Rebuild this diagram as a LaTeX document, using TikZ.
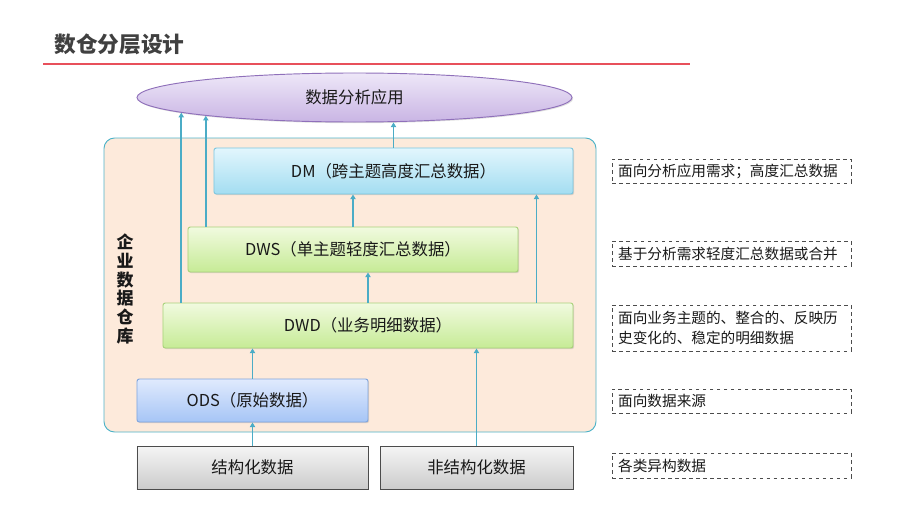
\documentclass[tikz,border=0pt]{standalone}
\usepackage{fontspec}
\setmainfont{Noto Sans CJK SC}
\usepackage{tikz}
\usetikzlibrary{arrows.meta,shapes.geometric,shadows}

\definecolor{flowc}{HTML}{4BACC6}
\definecolor{titlec}{HTML}{404040}
\definecolor{redline}{HTML}{E8505B}
\definecolor{dwfill}{HTML}{FDEADB}
\definecolor{dwline}{HTML}{4EB3C8}
\definecolor{apptop}{HTML}{EEE7F8}
\definecolor{appbot}{HTML}{C9B5E4}
\definecolor{appline}{HTML}{8F70BA}
\definecolor{dmtop}{HTML}{E2F6FD}
\definecolor{dmbot}{HTML}{A3DDF1}
\definecolor{dmline}{HTML}{7CC6DF}
\definecolor{grtop}{HTML}{F1FADF}
\definecolor{grbot}{HTML}{C6EB96}
\definecolor{grline}{HTML}{A8D27A}
\definecolor{odstop}{HTML}{E0EAFD}
\definecolor{odsbot}{HTML}{A6C5F6}
\definecolor{odsline}{HTML}{80A5DD}

\tikzset{
  layer/.style={draw, rounded corners=2pt, inner sep=0pt, font=\fontsize{14}{16}\selectfont,
    drop shadow={opacity=0.25, shadow xshift=1pt, shadow yshift=-1pt}},
  dmbox/.style={layer, draw=dmline, top color=dmtop, bottom color=dmbot},
  greenbox/.style={layer, draw=grline, top color=grtop, bottom color=grbot},
  odsbox/.style={layer, draw=odsline, top color=odstop, bottom color=odsbot},
  srcbox/.style={layer, rounded corners=0pt, draw=black!70, top color=black!4, bottom color=black!20},
  note/.style={draw=black!70, dashed, line width=0.6pt, minimum width=7.17cm, inner xsep=0.18cm,
    font=\fontsize{12.5}{17}\selectfont, align=left, text width=6.8cm},
  flow/.style={draw=flowc, line width=1.4pt, -{Triangle[length=4pt,width=4.5pt]}}
}

\begin{document}
\begin{tikzpicture}[x=0.03cm, y=-0.03cm, line width=0.8pt, text=black!90]

\useasboundingbox (0,0) rectangle (900,506);

\node [anchor=west, text=titlec, font=\fontsize{18.5}{20}\selectfont\bfseries] (title) at (50,44) {数仓分层设计};
\coordinate (rl) at (43,64);
\coordinate (rr) at (690,64);
\draw [redline, line width=1pt] (rl) -- (rr);

\draw [dwline, fill=dwfill, rounded corners=9pt] (104,138) rectangle (596,432);
\node [align=center, font=\fontsize{14.5}{16}\selectfont\bfseries] (dwlabel) at (125,289) {企\\业\\数\\据\\仓\\库};

\node [ellipse, draw=appline, top color=apptop, bottom color=appbot, inner sep=0pt,
  minimum width=13.05cm, minimum height=1.47cm, font=\fontsize{14}{16}\selectfont,
  drop shadow={opacity=0.25, shadow xshift=1pt, shadow yshift=-1pt}] (app) at (354.5,97.5) {数据分析应用};

\node [dmbox, minimum width=10.77cm, minimum height=1.38cm] (dm) at (393.5,171) {DM（跨主题高度汇总数据）};
\node [greenbox, minimum width=9.9cm, minimum height=1.35cm] (dws) at (353,249.5) {DWS（单主题轻度汇总数据）};
\node [greenbox, minimum width=12.3cm, minimum height=1.35cm] (dwd) at (368,325.5) {DWD（业务明细数据）};
\node [odsbox, minimum width=6.93cm, minimum height=1.29cm] (ods) at (252.5,400.5) {ODS（原始数据）};

\node [srcbox, minimum width=6.93cm, minimum height=1.29cm] (src1) at (252.5,467.5) {结构化数据};
\node [srcbox, minimum width=5.79cm, minimum height=1.29cm] (src2) at (476.5,467.5) {非结构化数据};

\draw [flow] (src1.north) -- (ods.south);
\draw [flow] (ods.north) -- (ods.north |- dwd.south);
\draw [flow] (src2.north) -- (src2.north |- dwd.south);
\draw [flow] (dwd.north) -- (dwd.north |- dws.south);
\draw [flow] ([xshift=-1.11cm]dwd.north east) -- ([xshift=-1.11cm]dwd.north east |- dm.south);
\draw [flow] (app.185.4 |- dwd.north) -- (app.185.4);
\draw [flow] (dws.north) -- (dws.north |- dm.south);
\draw [flow] (app.187 |- dws.north) -- (app.187);
\draw [flow] (dm.north) -- (dm.north |- app.south);

\node [note, minimum height=0.72cm] (n1) at (731.5,171) {面向分析应用需求；高度汇总数据};
\node [note, minimum height=0.75cm] (n2) at (731.5,253.5) {基于分析需求轻度汇总数据或合并};
\node [note, minimum height=1.38cm] (n3) at (731.5,328) {面向业务主题的、整合的、反映历\\史变化的、稳定的明细数据};
\node [note, minimum height=0.72cm] (n4) at (731.5,401) {面向数据来源};
\node [note, minimum height=0.75cm] (n5) at (731.5,465.5) {各类异构数据};

\end{tikzpicture}
\end{document}
